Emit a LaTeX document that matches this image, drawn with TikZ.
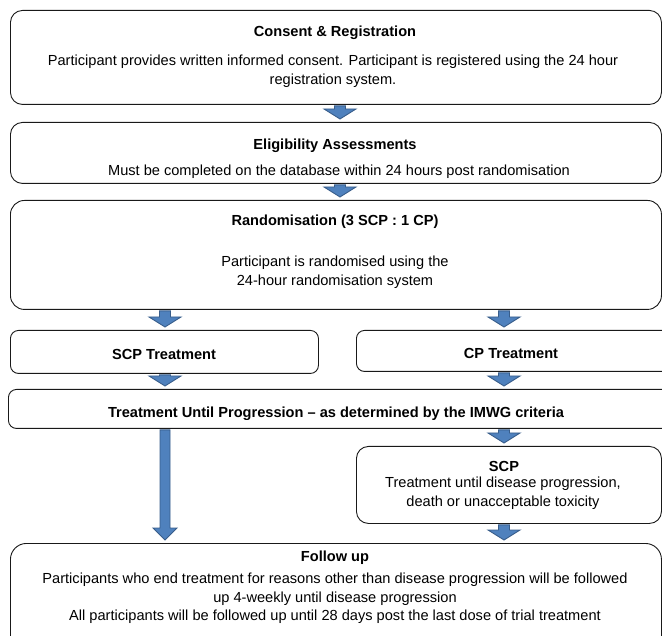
\documentclass[tikz,border=0pt]{standalone}
\usepackage{fontspec}
\setmainfont{Liberation Sans}
\usetikzlibrary{calc}
\definecolor{arrfill}{RGB}{79,129,189}
\definecolor{arrline}{RGB}{56,93,138}
\definecolor{boxline}{RGB}{25,25,25}
\newcommand\blkarrow[6]{% x, from, to, shaft half, head half, head length
  \path let \p1=(#2.south), \p2=(#3.north), \p3=(#1,0) in
    [fill=arrfill,draw=arrline,line width=0.9pt,line join=miter]
    (\x3-#4pt,\y1-1pt) -- (\x3+#4pt,\y1-1pt) -- (\x3+#4pt,\y2+3pt+#6pt)
    -- (\x3+#5pt,\y2+3pt+#6pt) -- (\x3,\y2+3pt) -- (\x3-#5pt,\y2+3pt+#6pt)
    -- (\x3-#4pt,\y2+3pt+#6pt) -- cycle;
}
\tikzset{
  box/.style={draw=boxline,line width=0.9pt,rounded corners=12pt,anchor=north west,inner sep=0pt,fill=white},
  sbox/.style={box,rounded corners=8pt},
  txt/.style={inner sep=0pt,align=center,font=\fontsize{14.6}{18.6}\selectfont},
  ttl/.style={txt,font=\fontsize{14.6}{18.6}\selectfont\bfseries},
}
\begin{document}
\begin{tikzpicture}[x=1pt,y=-1pt]
\useasboundingbox (0,0) rectangle (662,636);
\clip (0,0) rectangle (662,636);
% boxes
\node[box,minimum width=651pt,minimum height=94pt] (reg) at (10,10) {};
\node[box,minimum width=651pt,minimum height=61pt] (elig) at (10,122) {};
\node[box,rounded corners=14pt,minimum width=651pt,minimum height=109pt] (rand) at (10,200) {};
\node[sbox,minimum width=308pt,minimum height=43pt] (scpt) at (10,330) {};
\node[sbox,minimum width=320pt,minimum height=41pt] (cpt) at (356,330) {};
\node[sbox,minimum width=670pt,minimum height=39pt] (tup) at (8,389) {};
\node[box,minimum width=305pt,minimum height=77pt] (scp) at (356,446) {};
\node[box,rounded corners=16pt,minimum width=651pt,minimum height=110pt] (fup) at (10,543) {};
% texts
\node[ttl] (regT) at (335,33) {Consent \& Registration};
\node[txt] (regB) at (333,71.5) {Participant provides written informed consent. Participant is registered using the 24 hour\\registration system.};
\node[ttl] (eligT) at (335,146) {Eligibility Assessments};
\node[txt] (eligB) at (339,172) {Must be completed on the database within 24 hours post randomisation};
\node[ttl] (randT) at (335,222) {Randomisation (3 SCP : 1 CP)};
\node[txt] (randB) at (335,272) {Participant is randomised using the\\24-hour randomisation system};
\node[ttl] (scptT) at (164,354) {SCP Treatment};
\node[ttl] (cptT) at (511,353) {CP Treatment};
\begin{scope}
  \clip (0,395) rectangle (662,419.3);
  \node[ttl,anchor=base] (tupT) at (336,418) {Treatment Until Progression – as determined by the IMWG criteria};
\end{scope}
\node[ttl] (scpT) at (504,466) {SCP};
\node[txt] (scpB) at (503,493) {Treatment until disease progression,\\death or unacceptable toxicity};
\node[ttl] (fupT) at (335,558) {Follow up};
\node[txt] (fupB) at (335,598.5) {Participants who end treatment for reasons other than disease progression will be followed\\up 4-weekly until disease progression\\All participants will be followed up until 28 days post the last dose of trial treatment};
% arrows
\blkarrow{340}{reg}{elig}{5.5}{16}{10}
\blkarrow{340}{elig}{rand}{5.5}{16}{10}
\blkarrow{165}{rand}{scpt}{5.5}{16}{10}
\blkarrow{504}{rand}{cpt}{5.5}{16}{10}
\blkarrow{165}{scpt}{tup}{5.5}{16}{10}
\blkarrow{504}{cpt}{tup}{5.5}{16}{10}
\blkarrow{165}{tup}{fup}{5}{12}{12}
\blkarrow{504}{tup}{scp}{5.5}{16}{10}
\blkarrow{504}{scp}{fup}{5.5}{16}{10}
\end{tikzpicture}
\end{document}
